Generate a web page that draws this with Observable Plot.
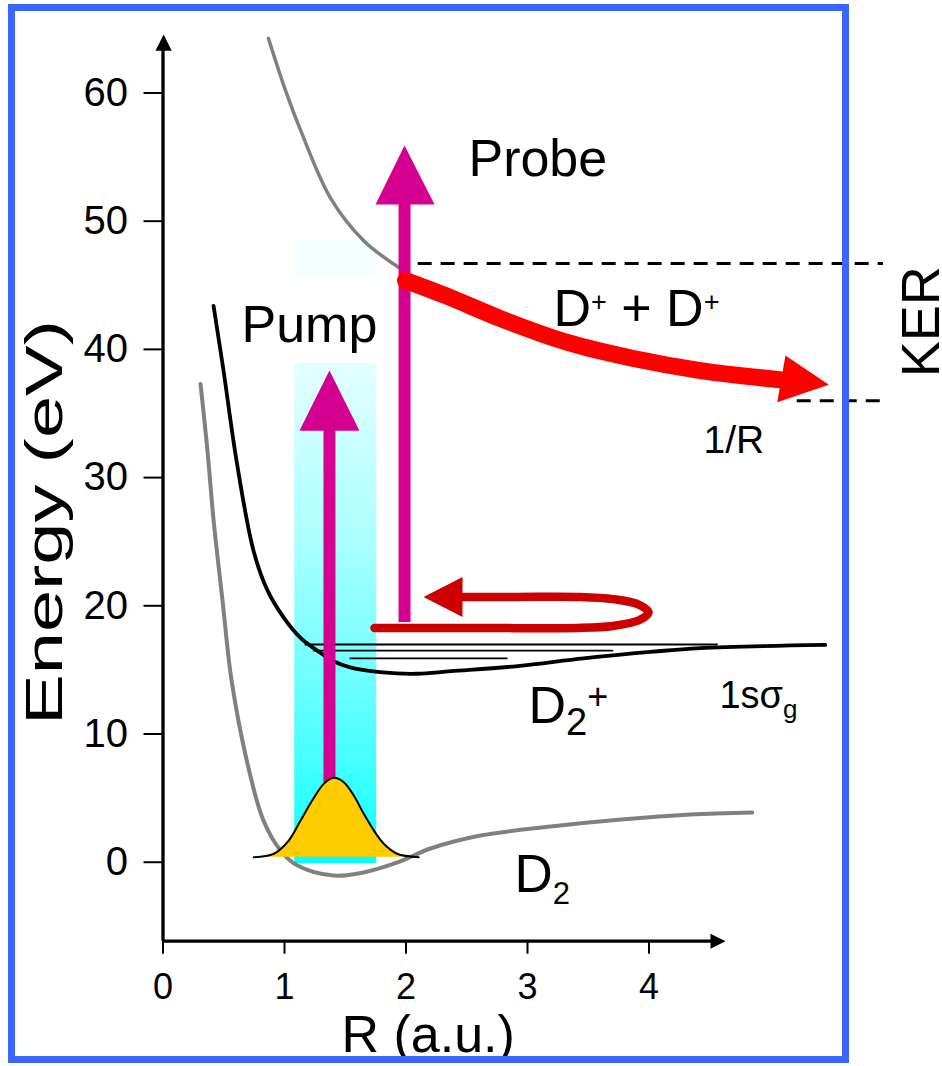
<!DOCTYPE html>
<html><head><meta charset="utf-8">
<script src="https://cdn.jsdelivr.net/npm/d3@7"></script>
<script src="https://cdn.jsdelivr.net/npm/@observablehq/plot@0.6"></script>
<style>
body{margin:0;background:#fff;}
#wrap{position:relative;width:942px;height:1066px;overflow:hidden;}
#border{position:absolute;left:8px;top:4px;width:841px;height:1059px;box-sizing:border-box;border:7px solid #3a66ff;pointer-events:none;}
</style></head>
<body><div id="wrap"><div id="chart"></div><div id="border"></div></div>
<script>
// ---- tick labels ----
const yTicks = [0, 10, 20, 30, 40, 50, 60];
const xTicks = [0, 1, 2, 3, 4];

// ---- D2 ground-state curve (grey) ----
const d2R = [0.309,0.366,0.416,0.490,0.564,0.695,0.827,0.967,1.107,1.403,1.650,1.930,2.202,2.613,3.19,3.77,4.34,4.85];
const d2E = [37.3,32.1,26.7,20.4,14.2,7.7,3.25,0.92,-0.26,-1.04,-0.80,-0.02,1.07,2.08,2.78,3.33,3.72,3.88];

// ---- D2+ 1s sigma_g curve (black) ----
const ionR = [0.416,0.498,0.605,0.745,0.860,0.992,1.132,1.27,1.40,1.54,1.81,2.09,2.37,2.92,3.46,4.01,4.42,5.45];
const ionE = [43.4,38.35,31.33,24.3,21.2,19.1,17.5,16.5,15.7,15.2,14.8,14.7,14.9,15.3,15.9,16.4,16.7,16.95];

// ---- Coulomb D+ + D+ curve (grey, upper) ----
const coulR = [0.868,1.008,1.132,1.379,1.650,1.938];
const coulE = [64.25,60.2,57.1,51.8,48.5,46.4];

// ---- vibrational levels ----
const vibE  = [16.98, 16.5, 15.9];
const vibR1 = [1.17, 1.24, 1.54];
const vibR2 = [4.57, 3.71, 2.84];

// ---- nuclear wave packet (gold) ----
const wpR = [0.747,0.912,1.035,1.132,1.228,1.323,1.405,1.488,1.570,1.652,1.735,1.817,1.927,2.105];
const wpE = [0.39,0.66,1.69,3.25,4.81,6.11,6.58,6.24,5.20,3.78,2.48,1.44,0.66,0.39];
const wpBase = 0.39;

// ---- Coulomb explosion path (red) ----
const kerR = [1.996,2.366,2.778,3.329,3.872,4.424,5.09];
const kerE = [45.37,44.04,42.4,40.54,39.29,38.35,37.62];
const kerLevels = [46.7, 36.0];

// ---- wave packet motion loop (dark red) ----
const loopR = [1.741,2.6,3.411,3.704,3.918,3.996,3.918,3.704,3.411,2.9,2.44];
const loopE = [18.27,18.27,18.27,18.43,18.87,19.48,20.08,20.52,20.69,20.69,20.69];

// ---- pulses ----
const pumpR = 1.370, pumpFrom = 4, pumpTo = 33.8;
const probeR = 1.988, probeFrom = 18.7, probeTo = 51.5;

const zip = (a, b) => a.map((v, i) => ({x: v, y: b[i]}));
const pink = "#d5008f";
const tri = (pts) => pts.map(([x, y]) => ({x, y}));

const plot = Plot.plot({
  width: 942, height: 1066,
  marginLeft: 162.5, marginRight: 0, marginTop: 34, marginBottom: 125.3,
  x: {domain: [0, 6.4156]},
  y: {domain: [-6.16, 64.56]},
  style: {fontFamily: "'Liberation Sans', Arial, Helvetica, sans-serif", background: "transparent", overflow: "visible", color: "black"},
  marks: [
    // pump pulse band
    Plot.rect([0], {x1: 1.084, x2: 1.759, y1: 45.6, y2: 48.5, fill: "#f6ffff"}),
    Plot.rect([0], {x1: 1.084, x2: 1.759, y1: -0.1, y2: 38.89, fill: "url(#pumpGrad)"}),
    // potential curves
    Plot.line(zip(d2R, d2E), {x: "x", y: "y", stroke: "#808080", strokeWidth: 4, curve: "catmull-rom"}),
    Plot.line(zip(coulR, coulE), {x: "x", y: "y", stroke: "#808080", strokeWidth: 3.5, curve: "catmull-rom"}),
    Plot.line(zip(ionR, ionE), {x: "x", y: "y", stroke: "black", strokeWidth: 3.8, curve: "catmull-rom"}),
    Plot.ruleY(vibE.map((e, i) => ({e, a: vibR1[i], b: vibR2[i]})), {y: "e", x1: "a", x2: "b", stroke: "black", strokeWidth: 1.8}),
    // KER dashed lines
    Plot.ruleY([kerLevels[0]], {x1: 2.10, x2: 5.93, stroke: "black", strokeWidth: 3, strokeDasharray: "14,9"}),
    Plot.ruleY([kerLevels[1]], {x1: 5.22, x2: 5.93, stroke: "black", strokeWidth: 3, strokeDasharray: "14,9"}),
    // axes lines with arrowheads
    Plot.ruleX([0], {y1: -6.16, y2: 63.4, stroke: "black", strokeWidth: 3.3}),
    Plot.ruleY([-6.16], {x1: 0, x2: 4.52, stroke: "black", strokeWidth: 3.3}),
    Plot.line(tri([[-0.062, 63.3], [0.005, 64.56], [0.072, 63.3]]), {x: "x", y: "y", fill: "black", stroke: "none"}),
    Plot.line(tri([[4.506, -5.575], [4.63, -6.16], [4.506, -6.745]]), {x: "x", y: "y", fill: "black", stroke: "none"}),
    Plot.axisY(yTicks, {anchor: "left", tickSize: 19, tickPadding: 16, fontSize: 40, strokeWidth: 2, label: null, tickFormat: d3.format("d")}),
    Plot.axisX(xTicks, {anchor: "bottom", tickSize: 13, tickPadding: 19, fontSize: 36, strokeWidth: 2, label: null, tickFormat: d3.format("d")}),
    // pink shafts
    Plot.ruleX([pumpR], {y1: pumpFrom, y2: pumpTo, stroke: pink, strokeWidth: 12}),
    Plot.ruleX([probeR], {y1: probeFrom, y2: probeTo, stroke: pink, strokeWidth: 12}),
    // loop arrow
    Plot.line(zip(loopR, loopE), {x: "x", y: "y", stroke: "#cc0000", strokeWidth: 8.5, curve: "catmull-rom"}),
    Plot.line(tri([[2.465, 22.25], [2.144, 20.69], [2.465, 19.13]]), {x: "x", y: "y", fill: "#cc0000", stroke: "none"}),
    // KER arrow
    Plot.line(zip(kerR, kerE), {x: "x", y: "y", stroke: "#ff0000", strokeWidth: 17, curve: "catmull-rom"}),
    Plot.line(tri([[5.123, 39.52], [5.48, 37.24], [5.055, 35.88]]), {x: "x", y: "y", fill: "#ff0000", stroke: "none"}),
    // pink heads
    Plot.line(tri([[1.123, 33.66], [1.370, 38.35], [1.617, 33.66]]), {x: "x", y: "y", fill: pink, stroke: "none"}),
    Plot.line(tri([[1.749, 51.3], [1.988, 55.9], [2.235, 51.3]]), {x: "x", y: "y", fill: pink, stroke: "none"}),
    // wave packet
    Plot.areaY(zip(wpR, wpE), {x: "x", y1: wpBase, y2: "y", fill: "#ffcc00", curve: "catmull-rom"}),
    Plot.line(zip(wpR, wpE), {x: "x", y: "y", stroke: "black", strokeWidth: 2, curve: "catmull-rom"}),
    // labels
    Plot.text(["Probe"], {x: 2.514, y: 53.49, text: d => d, fontSize: 52, textAnchor: "start", lineAnchor: "bottom"}),
    Plot.text(["Pump"], {x: 0.646, y: 40.54, text: d => d, fontSize: 52, textAnchor: "start", lineAnchor: "bottom"}),
    Plot.text(["D+ + D+"], {x: 3.214, y: 41.86, text: d => d, fontSize: 52, textAnchor: "start", lineAnchor: "bottom"}),
    Plot.text(["D2+"], {x: 3.008, y: 10.82, text: d => d, fontSize: 52, textAnchor: "start", lineAnchor: "bottom"}),
    Plot.text(["1sσg"], {x: 4.58, y: 11.99, text: d => d, fontSize: 38, textAnchor: "start", lineAnchor: "bottom"}),
    Plot.text(["D2"], {x: 2.893, y: -2.36, text: d => d, fontSize: 53, textAnchor: "start", lineAnchor: "bottom"}),
    Plot.text(["1/R"], {x: 4.449, y: 31.89, text: d => d, fontSize: 39, textAnchor: "start", lineAnchor: "bottom"}),
    Plot.text(["KER"], {x: 6.385, y: 42.15, text: d => d, fontSize: 54, textAnchor: "middle", lineAnchor: "bottom", rotate: -90}),
    Plot.text(["R (a.u.)"], {x: 1.469, y: -14.82, text: d => d, fontSize: 52, textAnchor: "start", lineAnchor: "bottom"}),
    Plot.text(["Energy (eV)"], {x: -0.835, y: 26.5, text: d => d, fontSize: 52, textAnchor: "middle", lineAnchor: "bottom", rotate: -90})
  ]
});

document.getElementById("chart").appendChild(plot);

// gradient for the pump pulse
const ns = "http://www.w3.org/2000/svg";
const defs = document.createElementNS(ns, "defs");
defs.innerHTML = `<linearGradient id="pumpGrad" x1="0" y1="0" x2="0" y2="1">
  <stop offset="0" stop-color="#e4ffff"/>
  <stop offset="0.37" stop-color="#a8ffff"/>
  <stop offset="0.63" stop-color="#70ffff"/>
  <stop offset="0.88" stop-color="#30ffff"/>
  <stop offset="1" stop-color="#00ffff"/></linearGradient>`;
plot.insertBefore(defs, plot.firstChild);

const findText = (label) => [...plot.querySelectorAll("text")].find(el => el.textContent === label);

// rich text: [text, fontSize, baseline shift (px, + = down)]
function rich(label, parts) {
  const t = findText(label);
  if (!t) return;
  t.textContent = "";
  t.style.whiteSpace = "pre";
  let prev = 0;
  for (const [s, fs, sh] of parts) {
    const ts = document.createElementNS(ns, "tspan");
    ts.textContent = s;
    ts.setAttribute("font-size", fs);
    if (sh !== prev) ts.setAttribute("dy", sh - prev);
    prev = sh;
    t.appendChild(ts);
  }
}
rich("D+ + D+", [["D", 52, 0], ["+", 27, -14.5], [" + ", 52, 0], ["D", 52, 0], ["+", 27, -14.5]]);
rich("D2+", [["D", 52, 0], ["2", 38, 12], ["+", 36, -14.6]]);
rich("1sσg", [["1sσ", 38, 0], ["g", 26, 10]]);
rich("D2", [["D", 53, 0], ["2", 31, 12]]);

// the vertical axis title is drawn elongated in the reference
const et = findText("Energy (eV)");
if (et) { et.setAttribute("textLength", 405); et.setAttribute("lengthAdjust", "spacingAndGlyphs"); }
</script>
</body></html>
